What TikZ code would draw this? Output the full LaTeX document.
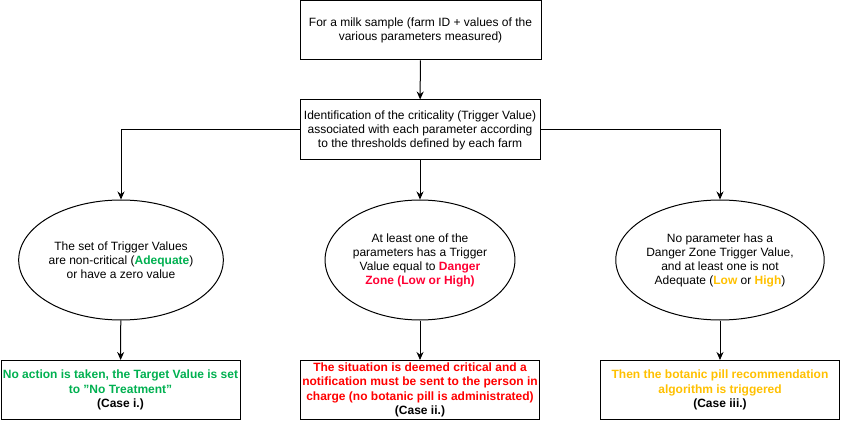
\documentclass[tikz,border=0pt]{standalone}
\usepackage{fontspec}
\setmainfont{Liberation Sans}
\usetikzlibrary{shapes.geometric,arrows.meta}
\definecolor{okgreen}{RGB}{0,176,80}
\definecolor{critred}{RGB}{255,0,0}
\definecolor{dzred}{RGB}{255,0,51}
\definecolor{warnyel}{RGB}{255,192,0}
\begin{document}
\begin{tikzpicture}[x=1pt,y=-1pt,
 box/.style={draw,line width=1pt,minimum width=240pt,minimum height=59pt,inner sep=0pt,align=center,font=\fontsize{12}{14}\selectfont},
 oval/.style={draw,ellipse,line width=1pt,minimum width=152pt,minimum height=120pt,inner sep=0pt,align=center,font=\fontsize{12}{14}\selectfont},
 outbox/.style={box,minimum width=239pt,font=\fontsize{12}{14.5}\selectfont\bfseries},
 arr/.style={line width=1pt,-{Stealth[length=8pt,width=7pt]}}]
\useasboundingbox (0,0) rectangle (841,422);
\node[box,minimum width=241pt] (top) at (420.5,30.5) {For a milk sample (farm ID + values of the\\various parameters measured)};
\node[box,minimum height=60pt] (id) at (420,130) {Identification of the criticality (Trigger Value)\\associated with each parameter according\\to the thresholds defined by each farm};
\node[oval] (e1) at (121,260) {The set of Trigger Values\\are non-critical (\textcolor{okgreen}{\bfseries Adequate})\\or have a zero value};
\node[oval] (e2) at (420,260) {At least one of the\\parameters has a Trigger\\Value equal to \textcolor{dzred}{\bfseries Danger}\\\textcolor{dzred}{\bfseries Zone (Low or High)}};
\node[oval] (e3) at (720,260) {No parameter has a\\Danger Zone Trigger Value,\\and at least one is not\\Adequate (\textcolor{warnyel}{\bfseries Low} or \textcolor{warnyel}{\bfseries High})};
\node[outbox] (b1) at (120.5,390) {\textcolor{okgreen}{No action is taken, the Target Value is set}\\\textcolor{okgreen}{to "No Treatment"}\\(Case i.)};
\node[outbox] (b2) at (420,390) {\textcolor{critred}{The situation is deemed critical and a}\\\textcolor{critred}{notification must be sent to the person in}\\\textcolor{critred}{charge (no botanic pill is administrated)}\\(Case ii.)};
\node[outbox] (b3) at (720,390) {\textcolor{warnyel}{Then the botanic pill recommendation}\\\textcolor{warnyel}{algorithm is triggered}\\(Case iii.)};
\draw[arr] (top) -- (id);
\draw[arr] (id.west) -| (e1.north);
\draw[arr] (id.east) -| (e3.north);
\draw[arr] (id) -- (e2);
\draw[arr] (e1) -- (b1);
\draw[arr] (e2) -- (b2);
\draw[arr] (e3) -- (b3);
\end{tikzpicture}
\end{document}
